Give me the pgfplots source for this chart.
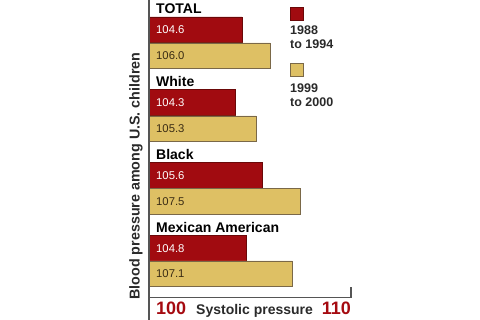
\documentclass[border=0pt]{standalone}
\usepackage{pgfplots}
\pgfplotsset{compat=1.18}
\usepackage{fontspec}
\setmainfont{Liberation Sans}
\definecolor{barred}{HTML}{A10B10}
\definecolor{bargold}{HTML}{DEC064}
\definecolor{redline}{HTML}{6A0808}
\definecolor{goldline}{HTML}{7A6848}
\definecolor{darktxt}{HTML}{3A2C14}
\definecolor{axisgray}{HTML}{555555}
\definecolor{labred}{HTML}{A50A10}
\definecolor{txt}{HTML}{2A2A2A}
\begin{document}
\begin{tikzpicture}
\useasboundingbox (0pt,0pt) rectangle (480pt,320pt);
\begin{axis}[at={(149pt,0pt)}, anchor=south west, scale only axis,
  width=202pt, height=320pt, xmin=100, xmax=110, ymin=0, ymax=320,
  hide axis, xbar, bar width=25.7]
\addplot[bar shift=0pt, fill=barred, draw=redline, line width=0.8pt]
  coordinates {(104.6,290.15) (104.3,217.35) (105.6,144.5) (104.8,71.5)};
\addplot[bar shift=0pt, fill=bargold, draw=goldline, line width=0.8pt]
  coordinates {(106.0,264.15) (105.3,191.15) (107.5,118.85) (107.1,46.15)};
\end{axis}
% axis lines
\draw[axisgray, line width=1.6pt] (149pt,0pt) -- (149pt,320pt);
\draw[axisgray, line width=1.4pt] (149pt,22.3pt) -- (351pt,22.3pt) -- (351pt,33pt);
% category labels
\begin{scope}[every node/.style={inner sep=0pt, anchor=base west, text=black, font=\fontsize{14}{16}\selectfont\bfseries}]
\node at (156pt,306pt) {TOTAL};
\node at (156pt,233.3pt) {White};
\node at (156pt,160.7pt) {Black};
\node at (156pt,87.3pt) {Mexican American};
\end{scope}
% value labels
\begin{scope}[every node/.style={inner sep=0pt, anchor=west, font=\fontsize{11.3}{13}\selectfont}]
\node[text=white] at (156pt,290.15pt) {104.6};
\node[text=darktxt] at (156pt,264.15pt) {106.0};
\node[text=white] at (156pt,217.35pt) {104.3};
\node[text=darktxt] at (156pt,191.15pt) {105.3};
\node[text=white] at (156pt,144.5pt) {105.6};
\node[text=darktxt] at (156pt,118.85pt) {107.5};
\node[text=white] at (156pt,71.5pt) {104.8};
\node[text=darktxt] at (156pt,46.15pt) {107.1};
\end{scope}
% legend
\filldraw[fill=barred, draw=redline, line width=0.8pt] (290.5pt,299.5pt) rectangle (303.5pt,312.5pt);
\filldraw[fill=bargold, draw=goldline, line width=0.8pt] (290.5pt,243.5pt) rectangle (303.5pt,256.5pt);
\begin{scope}[every node/.style={inner sep=0pt, anchor=base west, text=txt, font=\fontsize{12.5}{14}\selectfont\bfseries}]
\node at (290pt,285pt) {1988};
\node at (290pt,271.7pt) {to 1994};
\node at (290pt,227.7pt) {1999};
\node at (290pt,213.3pt) {to 2000};
\end{scope}
% bottom labels
\node[inner sep=0pt, anchor=base west, text=labred, font=\fontsize{18}{20}\selectfont\bfseries] at (156pt,5pt) {100};
\node[inner sep=0pt, anchor=base east, text=labred, font=\fontsize{18}{20}\selectfont\bfseries] at (351pt,5pt) {110};
\node[inner sep=0pt, anchor=base west, text=txt, font=\fontsize{14}{16}\selectfont\bfseries] at (196pt,5pt) {Systolic pressure};
% y label
\node[inner sep=0pt, rotate=90, text=txt, font=\fontsize{14.3}{16}\selectfont\bfseries] at (136pt,144pt) {Blood pressure among U.S. children};
\end{tikzpicture}
\end{document}
